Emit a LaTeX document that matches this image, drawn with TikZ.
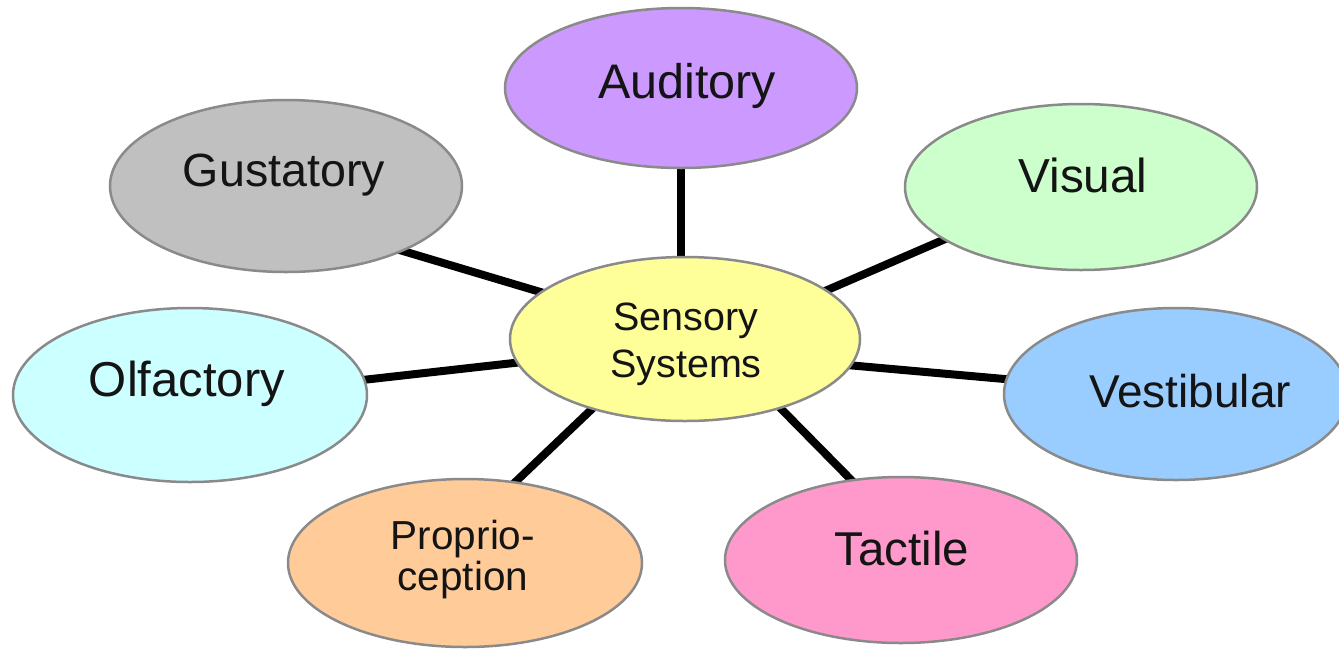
\documentclass[tikz,border=0pt]{standalone}
\usepackage{fontspec}
\setmainfont{Liberation Sans}
\usetikzlibrary{shapes.geometric,backgrounds}

\definecolor{edgegray}{RGB}{138,138,138}
\definecolor{audfill}{RGB}{204,153,255}
\definecolor{gustfill}{RGB}{192,192,192}
\definecolor{visfill}{RGB}{204,255,204}
\definecolor{sensfill}{RGB}{255,255,153}
\definecolor{olffill}{RGB}{204,255,255}
\definecolor{vestfill}{RGB}{153,204,255}
\definecolor{propfill}{RGB}{255,204,153}
\definecolor{tactfill}{RGB}{255,153,204}
\definecolor{inkblack}{RGB}{20,20,20}

\begin{document}
\begin{tikzpicture}[x=1pt,y=-1pt,
  sense/.style={ellipse, draw=edgegray, line width=2.5pt, inner sep=0pt},
  lbl/.style={anchor=base, inner sep=0pt, text=inkblack, font=\fontsize{#1}{#1}\selectfont},
  spoke/.style={line width=8pt, black, shorten >=-6pt, shorten <=-6pt}]

\useasboundingbox (0,0) rectangle (1339,649);

% the centre and its seven senses
\node[sense, fill=sensfill, minimum width=350pt, minimum height=164pt] (sens) at (685,339) {};
\node[sense, fill=audfill,  minimum width=352pt, minimum height=160pt] (aud)  at (681,88)  {};
\node[sense, fill=gustfill, minimum width=352pt, minimum height=172pt] (gust) at (286,186) {};
\node[sense, fill=visfill,  minimum width=352pt, minimum height=166pt] (vis)  at (1081,187) {};
\node[sense, fill=olffill,  minimum width=354pt, minimum height=174pt] (olf)  at (190,395) {};
\node[sense, fill=vestfill, minimum width=344pt, minimum height=172pt] (vest) at (1176,394) {};
\node[sense, fill=propfill, minimum width=354pt, minimum height=168pt] (prop) at (465,563) {};
\node[sense, fill=tactfill, minimum width=352pt, minimum height=166pt] (tact) at (901,560) {};

% labels
\node[lbl=39.5] (sens-t1) at (686,330) {Sensory};
\node[lbl=39.5] (sens-t2) at (686,377) {Systems};
\node[lbl=48.5] (aud-t)  at (687,98)  {Auditory};
\node[lbl=46.6] (gust-t) at (284,186) {Gustatory};
\node[lbl=47.7] (vis-t)  at (1083,192) {Visual};
\node[lbl=49]   (olf-t)  at (187,396) {Olfactory};
\node[lbl=46]   (vest-t) at (1190,407) {Vestibular};
\node[lbl=40.5] (prop-t1) at (463,549) {Proprio-};
\node[lbl=40.5] (prop-t2) at (463,590) {ception};
\node[lbl=47.5] (tact-t) at (902,565) {Tactile};

% white ground and the spokes behind the ellipses
\begin{scope}[on background layer]
  \fill[white] (0,0) rectangle (1339,649);
  \draw[spoke] (aud.south) -- (aud.south |- sens.north);
  \draw[spoke] (sens.162) -- (gust.-29);
  \draw[spoke] (sens.19.5) -- (vis.201);
  \draw[spoke] (sens.188) -- (olf.5);
  \draw[spoke] (sens.-9) -- (vest.175);
  \draw[spoke] (sens.217) -- (prop.58);
  \draw[spoke] (sens.-36.5) -- (tact.122);
\end{scope}
\end{tikzpicture}
\end{document}
